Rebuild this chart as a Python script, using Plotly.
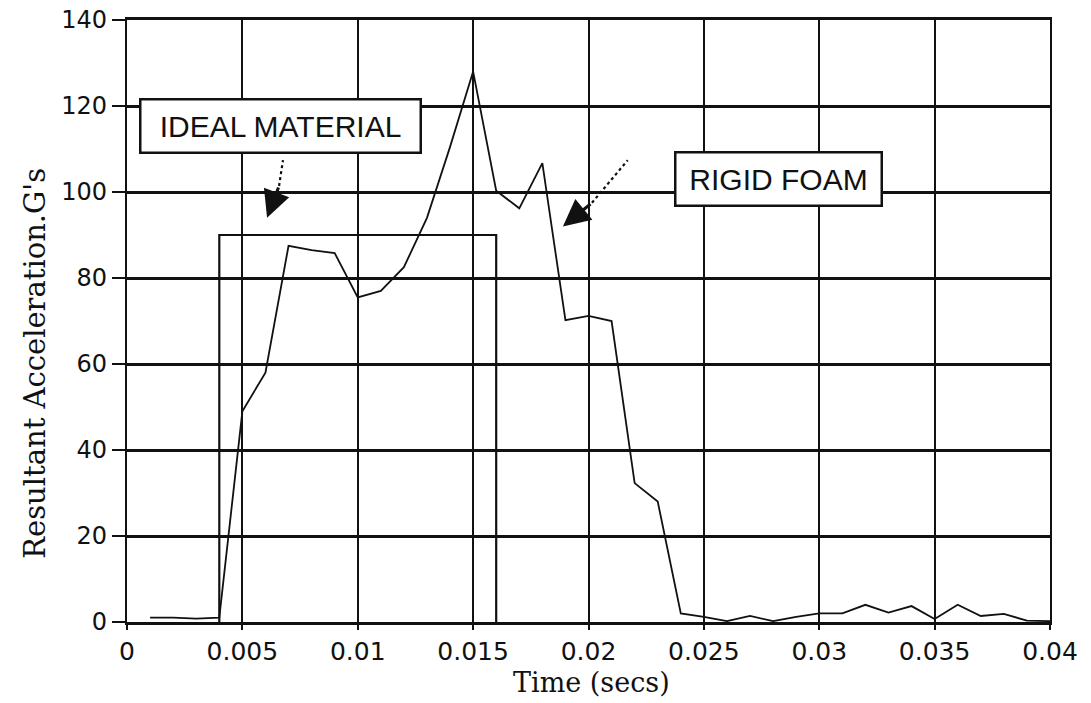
import plotly.graph_objects as go

# ---------------- data ----------------
rigid_t = [0.001, 0.002, 0.003, 0.004, 0.005, 0.006, 0.007, 0.008, 0.009, 0.010,
           0.011, 0.012, 0.013, 0.014, 0.015, 0.016, 0.017, 0.018, 0.019, 0.020,
           0.021, 0.022, 0.023, 0.024, 0.025, 0.026, 0.027, 0.028, 0.029, 0.030,
           0.031, 0.032, 0.033, 0.034, 0.035, 0.036, 0.037, 0.038, 0.039, 0.040]
rigid_g = [1.0, 1.0, 0.8, 1.0, 49.0, 58.0, 87.5, 86.5, 85.8, 75.5,
           77.0, 82.5, 94.0, 110.5, 128.0, 100.3, 96.2, 106.7, 70.2, 71.2,
           70.0, 32.3, 28.0, 2.0, 1.2, 0.2, 1.4, 0.2, 1.2, 2.0,
           2.0, 4.0, 2.2, 3.7, 0.7, 4.0, 1.4, 1.9, 0.3, 0.2]

ideal_t = [0.004, 0.004, 0.016, 0.016]
ideal_g = [0.0, 90.0, 90.0, 0.0]

x_tickvals = [0, 0.005, 0.01, 0.015, 0.02, 0.025, 0.03, 0.035, 0.04]
x_ticktext = ["0", "0.005", "0.01", "0.015", "0.02", "0.025", "0.03", "0.035", "0.04"]
y_tickvals = [0, 20, 40, 60, 80, 100, 120, 140]

x_title = "Time (secs)"
y_title = "Resultant Acceleration.G's"

# label boxes: (text, x, y)
ideal_label = ("IDEAL MATERIAL", 0.00665, 115.3)
rigid_label = ("RIGID FOAM", 0.02823, 103.1)
# arrows: tip, head base, dotted shaft end
ideal_arrow = dict(tip=(0.00607, 94.0), base=(0.00659, 101.4), shaft=(0.00676, 107.4))
rigid_arrow = dict(tip=(0.01889, 92.0), base=(0.02015, 97.5), shaft=(0.0217, 107.4))

# ---------------- figure ----------------
INK = "#111111"
fig = go.Figure()

fig.add_trace(go.Scatter(x=ideal_t, y=ideal_g, mode="lines",
                         line=dict(color=INK, width=2.2), name="Ideal material",
                         showlegend=False, hoverinfo="skip"))
fig.add_trace(go.Scatter(x=rigid_t, y=rigid_g, mode="lines",
                         line=dict(color=INK, width=1.8), name="Rigid foam",
                         showlegend=False))

annotations = []
for text, ax_, ay_, w in [(ideal_label[0], ideal_label[1], ideal_label[2], 278),
                          (rigid_label[0], rigid_label[1], rigid_label[2], 204)]:
    annotations.append(dict(
        x=ax_, y=ay_, xref="x", yref="y", text=text, showarrow=False,
        font=dict(family="Liberation Sans, Arial, sans-serif", size=30, color=INK),
        bgcolor="white", bordercolor=INK, borderwidth=2.5, borderpad=0,
        width=w, height=51, align="center", valign="middle"))

shapes = []
for arr in (ideal_arrow, rigid_arrow):
    annotations.append(dict(
        x=arr["tip"][0], y=arr["tip"][1], xref="x", yref="y",
        ax=arr["base"][0], ay=arr["base"][1], axref="x", ayref="y",
        text="", showarrow=True, arrowhead=2, arrowsize=1.8, arrowwidth=3,
        arrowcolor=INK, standoff=0))
    shapes.append(dict(type="line", xref="x", yref="y",
                       x0=arr["base"][0], y0=arr["base"][1],
                       x1=arr["shaft"][0], y1=arr["shaft"][1],
                       line=dict(color=INK, width=2.2, dash="dot")))

# y-axis title as rotated annotation (placed lower than plot centre as in the source)
annotations.append(dict(
    x=-0.099, y=0.43, xref="paper", yref="paper", text=y_title, showarrow=False,
    textangle=-90, xanchor="center", yanchor="middle",
    font=dict(family="DejaVu Serif, Liberation Serif, serif", size=29, color=INK)))
annotations.append(dict(
    x=0.503, y=-0.10, xref="paper", yref="paper", text=x_title, showarrow=False,
    xanchor="center", yanchor="middle",
    font=dict(family="DejaVu Serif, Liberation Serif, serif", size=27, color=INK)))

fig.update_layout(
    width=1091, height=703,
    margin=dict(l=127, r=41, t=20, b=81, autoexpand=False),
    paper_bgcolor="white", plot_bgcolor="white",
    showlegend=False,
    annotations=annotations,
    shapes=shapes,
)

fig.update_xaxes(
    range=[0, 0.04], tickvals=x_tickvals, ticktext=x_ticktext,
    showgrid=True, gridcolor=INK, gridwidth=2,
    showline=True, linecolor=INK, linewidth=2.8, mirror=True,
    ticks="outside", ticklen=5, tickwidth=1.5, tickcolor=INK,
    zeroline=False, automargin=False,
    tickfont=dict(family="DejaVu Sans, sans-serif", size=25, color=INK),
)
fig.update_yaxes(
    range=[0, 140], tickvals=y_tickvals,
    showgrid=True, gridcolor=INK, gridwidth=2.6,
    showline=True, linecolor=INK, linewidth=2.2, mirror=True,
    ticks="outside", ticklen=13, tickwidth=2, tickcolor=INK,
    zeroline=False, automargin=False,
    tickfont=dict(family="DejaVu Sans, sans-serif", size=24, color=INK),
)

# remove the browser's default 8px body margin so the figure fills the window exactly
fig.write_html("out.html",
               config={"displayModeBar": False},
               post_script="document.body.style.margin='0';document.body.style.overflow='hidden';")
